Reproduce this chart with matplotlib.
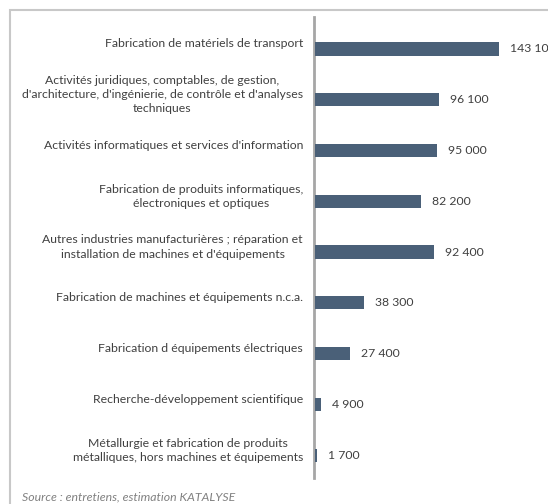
import matplotlib
matplotlib.use("Agg")
import matplotlib.pyplot as plt
from matplotlib.patches import Rectangle

categories = [
    "Fabrication de matériels de transport",
    "Activités juridiques, comptables, de gestion,\nd'architecture, d'ingénierie, de contrôle et d'analyses\ntechniques",
    "Activités informatiques et services d'information",
    "Fabrication de produits informatiques,\nélectroniques et optiques",
    "Autres industries manufacturières ; réparation et\ninstallation de machines et d'équipements",
    "Fabrication de machines et équipements n.c.a.",
    "Fabrication d équipements électriques",
    "Recherche-développement scientifique",
    "Métallurgie et fabrication de produits\nmétalliques, hors machines et équipements",
]
values = [143100, 96100, 95000, 82200, 92400, 38300, 27400, 4900, 1700]
value_labels = ["143 100", "96 100", "95 000", "82 200", "92 400", "38 300", "27 400", "4 900", "1 700"]
source = "Source : entretiens, estimation KATALYSE"

plt.rcParams['font.family'] = ['Lato', 'DejaVu Sans']

W, H = 548, 504
fig = plt.figure(figsize=(W / 100, H / 100), dpi=100)

# frame
fig.patches.append(Rectangle((10 / W, -0.1), 1.2, (H - 10) / H + 0.1, transform=fig.transFigure,
                             fill=False, edgecolor='#c8c8c8', linewidth=1.5))

ax_left, ax_top, ax_bot = 315, 17, 478
ax = fig.add_axes([ax_left / W, (H - ax_bot) / H, (W - ax_left) / W, (ax_bot - ax_top) / H])
ax.patch.set_alpha(0)

ypos = list(range(len(categories)))
ax.barh(ypos, values, height=0.26, color='#4a6078', zorder=3)
ax.set_ylim(8.45, -0.63)
ax.set_xlim(0, 143100 * (W - ax_left) / 184)

for y, v, lab in zip(ypos, values, value_labels):
    ax.annotate(lab, (v, y), xytext=(11, 0), textcoords='offset pixels',
                ha='left', va='center', fontsize=8.8, color='#404040', annotation_clip=False)
    ax.annotate(categories[y], (0, y), xytext=(-12, 5), textcoords='offset pixels',
                ha='right', va='center', multialignment='center', fontsize=8.8,
                color='#404040', linespacing=1.35, annotation_clip=False)

for s in ['top', 'right', 'bottom']:
    ax.spines[s].set_visible(False)
ax.spines['left'].set_color('#a6a6a6')
ax.spines['left'].set_linewidth(2)
ax.spines['left'].set_position(('outward', 1))
ax.set_xticks([])
ax.set_yticks([])

fig.text(22 / W, (H - 497) / H, source, ha='left', va='center', fontsize=8.8,
         style='italic', color='#808080')

fig.savefig("out.png", dpi=100)
